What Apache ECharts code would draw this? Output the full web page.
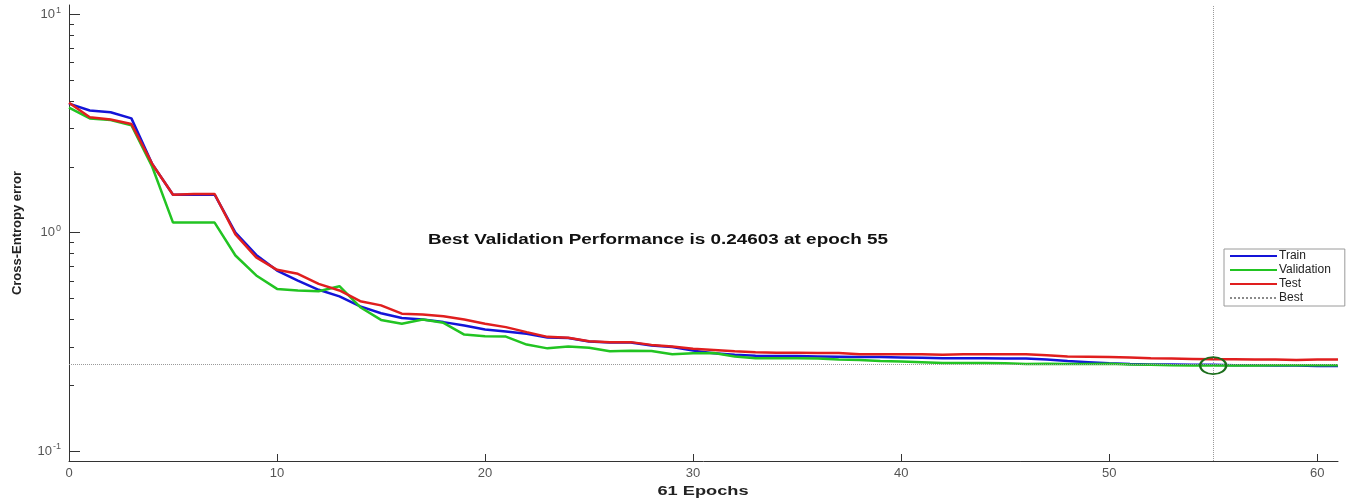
<!DOCTYPE html>
<html>
<head>
<meta charset="utf-8">
<script src="https://cdn.jsdelivr.net/npm/echarts@6/dist/echarts.min.js"></script>
<style>
html,body{margin:0;padding:0;background:#fff;}
#chart{width:1358px;height:502px;}
</style>
</head>
<body>
<div id="chart"></div>
<script>
// ---- data ----
var trainErr = [3.89, 3.62, 3.55, 3.33, 2.06, 1.49, 1.49, 1.49, 1.0, 0.79, 0.67,
  0.603, 0.547, 0.51, 0.459, 0.427, 0.406, 0.40, 0.389, 0.375, 0.36,
  0.352, 0.344, 0.331, 0.329, 0.317, 0.314, 0.314, 0.304, 0.299, 0.288,
  0.28, 0.276, 0.273, 0.272, 0.272, 0.271, 0.27, 0.269, 0.269, 0.268,
  0.267, 0.266, 0.266, 0.266, 0.265, 0.265, 0.262, 0.258, 0.255, 0.252,
  0.250, 0.249, 0.249, 0.248, 0.248, 0.247, 0.247, 0.246, 0.246, 0.245, 0.245];
var valErr = [3.73, 3.33, 3.27, 3.1, 2.0, 1.11, 1.11, 1.11, 0.785, 0.636, 0.552,
  0.543, 0.539, 0.568, 0.455, 0.398, 0.382, 0.40, 0.386, 0.341, 0.335,
  0.334, 0.307, 0.295, 0.301, 0.297, 0.286, 0.288, 0.287, 0.277, 0.28,
  0.281, 0.271, 0.266, 0.266, 0.266, 0.265, 0.262, 0.261, 0.258, 0.257,
  0.255, 0.253, 0.253, 0.253, 0.252, 0.25, 0.251, 0.25, 0.25, 0.2505,
  0.249, 0.248, 0.247, 0.2465, 0.24603, 0.2462, 0.2465, 0.2467, 0.2466, 0.2468, 0.247];
var testErr = [3.93, 3.37, 3.29, 3.14, 2.06, 1.49, 1.50, 1.50, 0.98, 0.77, 0.675,
  0.647, 0.582, 0.543, 0.485, 0.464, 0.425, 0.421, 0.414, 0.40, 0.382,
  0.369, 0.35, 0.333, 0.33, 0.318, 0.315, 0.315, 0.306, 0.301, 0.294,
  0.29, 0.286, 0.283, 0.282, 0.282, 0.281, 0.281, 0.277, 0.277, 0.277,
  0.277, 0.276, 0.277, 0.277, 0.277, 0.277, 0.274, 0.271, 0.27, 0.269,
  0.268, 0.266, 0.265, 0.264, 0.263, 0.263, 0.262, 0.262, 0.261, 0.262, 0.262];
var bestEpoch = 55;
var bestVal = 0.24603;
var xTicks = [0, 10, 20, 30, 40, 50, 60];
var yMajorTicks = [0.1, 1, 10];
var yTickExponents = ['-1', '0', '1'];
var yMinorTicks = [0.2, 0.3, 0.4, 0.5, 0.6, 0.7, 0.8, 0.9, 2, 3, 4, 5, 6, 7, 8, 9];
var seriesNames = ['Train', 'Validation', 'Test', 'Best'];
var titleText = 'Best Validation Performance is 0.24603 at epoch 55';
var xName = '61 Epochs';
var yName = 'Cross-Entropy error';

function pairs(arr) { return arr.map(function (v, i) { return [i, v]; }); }

var FONT = '"Liberation Sans", Arial, Helvetica, sans-serif';
var chart = echarts.init(document.getElementById('chart'), null, {renderer: 'canvas'});

var option = {
  animation: false,
  backgroundColor: '#ffffff',
  grid: {left: 69, right: 20, top: 5, bottom: 41, containLabel: false},
  legend: {
    data: seriesNames,
    orient: 'vertical',
    left: 1224, top: 249,
    padding: [1, 14, 2, 5],
    itemWidth: 47, itemHeight: 10, itemGap: 2,
    backgroundColor: '#ffffff',
    borderColor: '#9a9a9a', borderWidth: 1, borderRadius: 0,
    itemStyle: {opacity: 0},
    textStyle: {fontFamily: FONT, fontSize: 12, color: '#222', lineHeight: 12, padding: [0, 0, 0, -3]}
  },
  xAxis: {
    type: 'value', min: 0, max: 61,
    axisLine: {show: true, lineStyle: {color: '#333', width: 1}},
    axisTick: {show: true, inside: true, length: 7, customValues: xTicks, lineStyle: {color: '#333'}},
    axisLabel: {customValues: xTicks, margin: 6, color: '#555', fontFamily: FONT, fontSize: 13},
    splitLine: {show: false}
  },
  yAxis: [{
    type: 'log', logBase: 10, min: 0.09, max: 11,
    axisLine: {show: true, lineStyle: {color: '#333', width: 1}},
    axisTick: {show: true, inside: true, length: 11, customValues: yMajorTicks, lineStyle: {color: '#333'}},
    axisLabel: {
      customValues: yMajorTicks, margin: 8,
      formatter: function (v) {
        var idx = -1;
        for (var i = 0; i < yMajorTicks.length; i++) {
          if (Math.abs(yMajorTicks[i] - v) / yMajorTicks[i] < 1e-6) idx = i;
        }
        return '{b|10}{e|' + (idx >= 0 ? yTickExponents[idx] : '') + '}';
      },
      rich: {
        b: {fontFamily: FONT, fontSize: 13, color: '#555'},
        e: {fontFamily: FONT, fontSize: 9, color: '#555', padding: [0, 0, 8, 1]}
      }
    },
    splitLine: {show: false},
    name: yName, nameLocation: 'middle', nameGap: 45,
    nameTextStyle: {fontFamily: FONT, fontSize: 13, fontWeight: 'bold', color: '#222'}
  }, {
    type: 'log', logBase: 10, min: 0.09, max: 11, position: 'left',
    axisLine: {show: false},
    axisTick: {show: true, inside: true, length: 5, customValues: yMinorTicks, lineStyle: {color: '#333'}},
    axisLabel: {show: false},
    splitLine: {show: false}
  }],
  series: [
    {
      name: 'Train', type: 'line', data: pairs(trainErr), yAxisIndex: 0,
      symbol: 'none', showSymbol: false, z: 2,
      lineStyle: {color: '#1414d8', width: 2.5}, itemStyle: {color: '#1414d8'}
    },
    {
      name: 'Validation', type: 'line', data: pairs(valErr), yAxisIndex: 0,
      symbol: 'none', showSymbol: false, z: 3,
      lineStyle: {color: '#22c422', width: 2.5}, itemStyle: {color: '#22c422'}
    },
    {
      name: 'Test', type: 'line', data: pairs(testErr), yAxisIndex: 0,
      symbol: 'none', showSymbol: false, z: 4,
      lineStyle: {color: '#e01e1e', width: 2.5}, itemStyle: {color: '#e01e1e'}
    },
    {
      name: 'Best', type: 'line', data: [[bestEpoch, bestVal]], yAxisIndex: 0,
      symbol: 'none', showSymbol: false, z: 5,
      lineStyle: {color: '#8a8a8a', width: 1, type: 'dotted'}, itemStyle: {color: '#8a8a8a'},
      markLine: {
        silent: true, symbol: 'none', animation: false,
        label: {show: false},
        lineStyle: {color: '#9a9a9a', width: 1, type: 'dotted'},
        data: [{yAxis: bestVal}, {xAxis: bestEpoch}]
      },
      markPoint: {
        silent: true, animation: false,
        symbol: 'circle', symbolSize: [26, 17],
        label: {show: false},
        itemStyle: {color: 'rgba(0,0,0,0)', borderColor: '#1c6e1c', borderWidth: 2},
        data: [{coord: [bestEpoch, bestVal]}]
      }
    }
  ],
  graphic: [
    {
      type: 'text', x: 658, y: 240, scaleX: 1.35, z: 10,
      style: {
        text: titleText, fill: '#111',
        font: 'bold 14px ' + FONT,
        align: 'center', verticalAlign: 'middle',
        textAlign: 'center', textVerticalAlign: 'middle'
      }
    },
    {
      type: 'text', x: 703, y: 491, scaleX: 1.4, z: 10,
      style: {
        text: xName, fill: '#222',
        font: 'bold 13px ' + FONT,
        align: 'center', verticalAlign: 'middle',
        textAlign: 'center', textVerticalAlign: 'middle'
      }
    }
  ]
};
chart.setOption(option);
</script>
</body>
</html>
